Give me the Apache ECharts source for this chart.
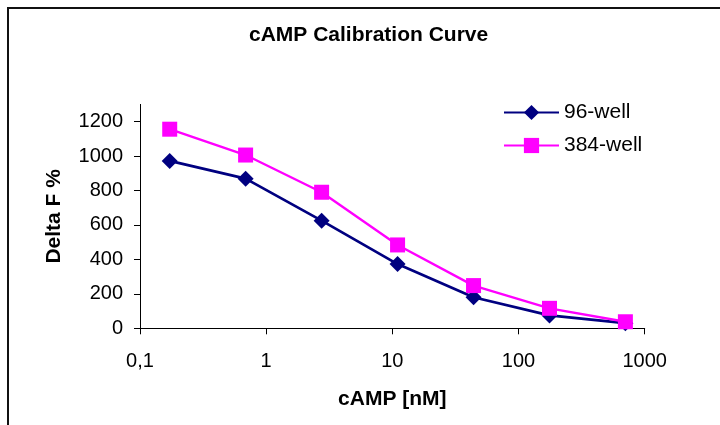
<!DOCTYPE html>
<html>
<head>
<meta charset="utf-8">
<script src="https://cdn.jsdelivr.net/npm/echarts@6/dist/echarts.min.js"></script>
<style>
html,body{margin:0;padding:0;background:#fff;}
#chart{width:720px;height:425px;}
</style>
</head>
<body>
<div id="chart"></div>
<script>
const concentrations = [0.172, 0.687, 2.75, 11, 44, 176, 703];
const well96 = [972, 869, 625, 373, 180, 75, 30];
const well384 = [1156, 1006, 790, 484, 248, 116, 38];
const yTicks = [0, 200, 400, 600, 800, 1000, 1200];
const seriesNames = ['96-well', '384-well'];
const titleText = 'cAMP Calibration Curve';
const xTitle = 'cAMP [nM]';
const yTitle = 'Delta F %';

const FONT = "'Liberation Sans', Arial, sans-serif";
const chart = echarts.init(document.getElementById('chart'));

function pairs(xs, ys) { return xs.map((x, i) => [x, ys[i]]); }

chart.setOption({
  animation: false,
  backgroundColor: '#fff',
  title: {
    text: titleText,
    left: 249,
    top: 25,
    padding: 0,
    textStyle: { fontFamily: FONT, fontSize: 21, fontWeight: 'bold', color: '#000' }
  },
  graphic: [{
    type: 'rect',
    shape: { x: 8, y: 8, width: 800, height: 600 },
    style: { fill: 'none', stroke: '#111', lineWidth: 2 },
    silent: true
  }],
  legend: {
    left: 503,
    top: 102,
    orient: 'vertical',
    itemWidth: 55,
    itemHeight: 19,
    itemGap: 12,
    padding: 0,
    textStyle: { fontFamily: FONT, fontSize: 21, color: '#000', lineHeight: 21 },
    data: seriesNames
  },
  grid: { left: 140, right: 75.3, top: 104.4, bottom: 96.7, containLabel: false },
  xAxis: {
    type: 'log',
    logBase: 10,
    min: 0.1,
    max: 1000,
    name: xTitle,
    nameLocation: 'middle',
    nameGap: 60,
    nameTextStyle: { fontFamily: FONT, fontSize: 21, fontWeight: 'bold', color: '#000' },
    axisLine: { show: true, lineStyle: { color: '#000', width: 1 } },
    axisTick: { show: true, inside: false, length: 6, lineStyle: { color: '#000' } },
    splitLine: { show: false },
    minorTick: { show: false },
    axisLabel: {
      margin: 23,
      fontFamily: FONT, fontSize: 20, color: '#000',
      formatter: v => v < 1 ? v.toFixed(1).replace('.', ',') : String(Math.round(v))
    }
  },
  yAxis: {
    type: 'value',
    min: 0,
    max: 1300,
    interval: 100,
    name: yTitle,
    nameLocation: 'middle',
    nameGap: 75,
    nameRotate: 90,
    nameTextStyle: { fontFamily: FONT, fontSize: 21, fontWeight: 'bold', color: '#000' },
    axisLine: { show: true, lineStyle: { color: '#000', width: 1 } },
    axisTick: { show: true, inside: false, length: 6, lineStyle: { color: '#000' }, customValues: yTicks },
    splitLine: { show: false },
    axisLabel: {
      margin: 17, fontFamily: FONT, fontSize: 20, color: '#000',
      customValues: yTicks,
      formatter: v => String(v)
    }
  },
  series: [
    {
      name: seriesNames[0],
      type: 'line',
      data: pairs(concentrations, well96),
      symbol: 'diamond',
      symbolSize: 16,
      itemStyle: { color: '#000080' },
      lineStyle: { color: '#000080', width: 2.7 },
      z: 2
    },
    {
      name: seriesNames[1],
      type: 'line',
      data: pairs(concentrations, well384),
      symbol: 'rect',
      symbolSize: 15,
      itemStyle: { color: '#FF00FF' },
      lineStyle: { color: '#FF00FF', width: 2.4 },
      z: 3
    }
  ]
});
</script>
</body>
</html>
